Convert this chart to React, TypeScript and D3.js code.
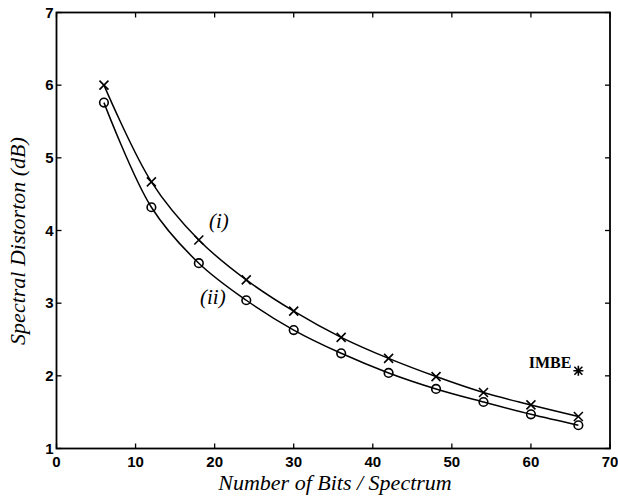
import React, { useEffect, useRef } from 'react';
import * as d3 from 'd3';

const bits = [6, 12, 18, 24, 30, 36, 42, 48, 54, 60, 66];
const seriesI = [6.0, 4.67, 3.87, 3.32, 2.89, 2.53, 2.24, 1.99, 1.77, 1.6, 1.44];
const seriesII = [5.76, 4.32, 3.55, 3.04, 2.63, 2.31, 2.04, 1.82, 1.64, 1.47, 1.32];
const imbeBits = [66];
const imbeValue = [2.07];
const xTicks = [0, 10, 20, 30, 40, 50, 60, 70];
const yTicks = [1, 2, 3, 4, 5, 6, 7];

const serif = '"Liberation Serif", "Times New Roman", serif';
const sans = '"Liberation Sans", Arial, sans-serif';

const App = () => {
  const svgRef = useRef<SVGSVGElement | null>(null);

  useEffect(() => {
    if (!svgRef.current) return;
    const root = d3.select(svgRef.current);
    root.selectAll('*').remove();

    const width = 618, height = 497;
    const left = 56.5, right = 610, top = 12.5, bottom = 448.5;

    const x = d3.scaleLinear().domain([0, 70]).range([left, right]);
    const y = d3.scaleLinear().domain([1, 7]).range([bottom, top]);

    root.attr('width', width).attr('height', height).attr('viewBox', `0 0 ${width} ${height}`);
    root.append('rect').attr('width', width).attr('height', height).attr('fill', '#fff');

    const g = root.append('g');

    // ticks pointing inwards, on all four sides
    const tl = 5;
    xTicks.forEach(t => {
      g.append('line').attr('x1', x(t)).attr('x2', x(t)).attr('y1', bottom).attr('y2', bottom - tl)
        .attr('stroke', '#000').attr('stroke-width', 1.3);
      g.append('line').attr('x1', x(t)).attr('x2', x(t)).attr('y1', top).attr('y2', top + tl)
        .attr('stroke', '#000').attr('stroke-width', 1.3);
      g.append('text').attr('x', x(t)).attr('y', bottom + 18).attr('text-anchor', 'middle')
        .attr('font-family', sans).attr('font-weight', 'bold')
        .attr('font-size', 15).attr('fill', '#000').text(t);
    });
    yTicks.forEach(t => {
      g.append('line').attr('x1', left).attr('x2', left + tl).attr('y1', y(t)).attr('y2', y(t))
        .attr('stroke', '#000').attr('stroke-width', 1.3);
      g.append('line').attr('x1', right).attr('x2', right - tl).attr('y1', y(t)).attr('y2', y(t))
        .attr('stroke', '#000').attr('stroke-width', 1.3);
      g.append('text').attr('x', left - 3).attr('y', y(t) + 5).attr('text-anchor', 'end')
        .attr('font-family', sans).attr('font-weight', 'bold')
        .attr('font-size', 15).attr('fill', '#000').text(t);
    });

    // frame
    g.append('rect').attr('x', left).attr('y', top).attr('width', right - left).attr('height', bottom - top)
      .attr('fill', 'none').attr('stroke', '#000').attr('stroke-width', 1.8);

    const line = d3.line<number>()
      .x((_, i) => x(bits[i]))
      .y(d => y(d))
      .curve(d3.curveCatmullRom.alpha(0.5));

    [seriesI, seriesII].forEach(s => {
      g.append('path').attr('d', line(s)).attr('fill', 'none')
        .attr('stroke', '#000').attr('stroke-width', 1.5);
    });

    // crosses for (i)
    const c = 4.5;
    seriesI.forEach((v, i) => {
      const cx = x(bits[i]), cy = y(v);
      g.append('path').attr('d', `M${cx - c},${cy - c}L${cx + c},${cy + c}M${cx - c},${cy + c}L${cx + c},${cy - c}`)
        .attr('stroke', '#000').attr('stroke-width', 1.6).attr('fill', 'none');
    });
    // circles for (ii)
    seriesII.forEach((v, i) => {
      g.append('circle').attr('cx', x(bits[i])).attr('cy', y(v)).attr('r', 4.3)
        .attr('fill', 'none').attr('stroke', '#000').attr('stroke-width', 1.6);
    });

    // IMBE star
    imbeBits.forEach((b, i) => {
      const cx = x(b), cy = y(imbeValue[i]);
      const s = 4;
      g.append('path')
        .attr('d', `M${cx - s},${cy - s}L${cx + s},${cy + s}M${cx - s},${cy + s}L${cx + s},${cy - s}M${cx},${cy - s - 1}L${cx},${cy + s + 1}M${cx - s - 1},${cy}L${cx + s + 1},${cy}`)
        .attr('stroke', '#000').attr('stroke-width', 1.6).attr('fill', 'none');
      g.append('text').attr('x', cx - 7).attr('y', cy - 3).attr('text-anchor', 'end')
        .attr('font-family', serif).attr('font-weight', 'bold')
        .attr('font-size', 16).attr('fill', '#000').text('IMBE');
    });

    // curve labels
    g.append('text').attr('x', 209).attr('y', 228)
      .attr('font-family', serif).attr('font-style', 'italic')
      .attr('font-size', 21).attr('fill', '#000').text('(i)');
    g.append('text').attr('x', 200).attr('y', 304)
      .attr('font-family', serif).attr('font-style', 'italic')
      .attr('font-size', 21).attr('fill', '#000').text('(ii)');

    // axis titles
    g.append('text').attr('x', 335).attr('y', 490).attr('text-anchor', 'middle')
      .attr('font-family', serif).attr('font-style', 'italic')
      .attr('font-size', 22).attr('fill', '#000').text('Number of Bits / Spectrum');
    g.append('text').attr('transform', `translate(25, 241) rotate(-90)`)
      .attr('text-anchor', 'middle')
      .attr('font-family', serif).attr('font-style', 'italic')
      .attr('font-size', 22).attr('fill', '#000').text('Spectral Distorton (dB)');
  }, []);

  return (
    <div style={{ position: 'absolute', left: 0, top: 0 }}>
      <svg ref={svgRef} style={{ display: 'block' }}></svg>
    </div>
  );
};

export default App;
